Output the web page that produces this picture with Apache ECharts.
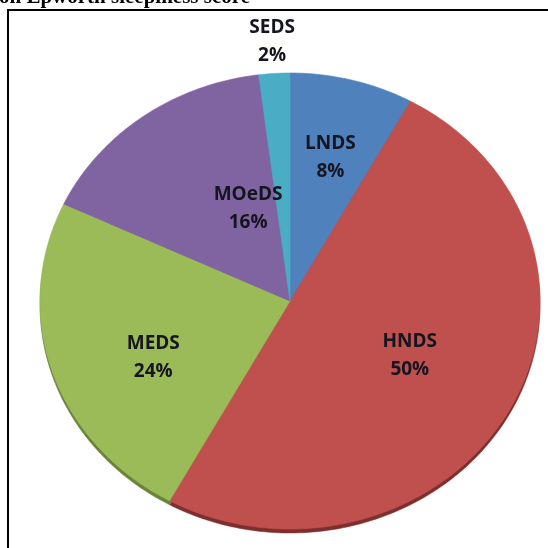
<!DOCTYPE html>
<html>
<head>
<meta charset="utf-8">
<script src="https://cdn.jsdelivr.net/npm/echarts@6/dist/echarts.min.js"></script>
<style>
html,body{margin:0;padding:0;background:#fff;}
#chart{width:548px;height:548px;}
</style>
</head>
<body>
<div id="chart"></div>
<script>
// ---- data ----
const categories = ['LNDS', 'HNDS', 'MEDS', 'MOeDS', 'SEDS'];
const percents = [8, 50, 24, 16, 2];
const titleText = 'on Epworth sleepiness score';

// ---- styles ----
const topColors = ['#4F81BD', '#C0504D', '#9BBB59', '#8064A2', '#4BACC6'];
const sideColors = ['#385D8A', '#7E2F2D', '#6A8239', '#5A4576', '#327C90'];
// label placement: [angle offset from slice middle (deg), radius fraction]
const labelLayout = [[0, 0.65], [-2.4, 0.535], [-6.3, 0.60], [13.6, 0.44], [0, 1.14]];

const total = percents.reduce((a, b) => a + b, 0);
const starts = [];
let acc = 0;
percents.forEach(v => { starts.push(acc); acc += v; });

const chart = echarts.init(document.getElementById('chart'), null, {renderer: 'canvas'});

function renderItem(params, api) {
  const i = params.dataIndex;
  const v = api.value(1);
  const a0 = starts[i] / total * 2 * Math.PI;
  const a1 = (starts[i] + v) / total * 2 * Math.PI;
  const steps = Math.max(4, Math.ceil((a1 - a0) / (Math.PI / 180)));
  const pts = [api.coord([0, 0])];
  for (let k = 0; k <= steps; k++) {
    const a = a0 + (a1 - a0) * k / steps;
    pts.push(api.coord([Math.sin(a), Math.cos(a)]));
  }
  const sidePts = pts.map(p => [p[0], p[1] + 4]);
  const lay = labelLayout[i];
  const am = (a0 + a1) / 2 + lay[0] * Math.PI / 180;
  const lp = api.coord([lay[1] * Math.sin(am), lay[1] * Math.cos(am)]);
  return {
    type: 'group',
    children: [
      {type: 'polygon', z2: 1, shape: {points: sidePts}, style: {fill: sideColors[i], stroke: sideColors[i], lineWidth: 0.5}},
      {type: 'polygon', z2: 10, shape: {points: pts}, style: {fill: topColors[i], stroke: topColors[i], lineWidth: 0.6}},
      {type: 'text', z2: 20, x: lp[0], y: lp[1], style: {
        text: categories[i] + '\n' + v + '%',
        fill: '#151520',
        font: 'bold 19px "Open Sans"',
        lineHeight: 28,
        align: 'center',
        verticalAlign: 'middle'
      }}
    ]
  };
}

chart.setOption({
  animation: false,
  grid: {left: 40, right: 8, top: 73, bottom: 19},
  xAxis: {type: 'value', min: -1, max: 1, show: false},
  yAxis: {type: 'value', min: -1, max: 1, show: false},
  graphic: [
    {type: 'text', x: -1, y: 8, style: {text: titleText, fontFamily: 'Liberation Serif', fontWeight: 'bold', fontSize: 21, lineHeight: 21, fill: '#000', verticalAlign: 'bottom'}},
    {type: 'polyline', shape: {points: [[8, 549], [8, 10], [549, 10]]}, style: {stroke: '#000', lineWidth: 2, fill: null}}
  ],
  series: [{
    type: 'custom',
    clip: false,
    renderItem: renderItem,
    data: percents.map((v, i) => [i, v])
  }]
});
</script>
</body>
</html>
